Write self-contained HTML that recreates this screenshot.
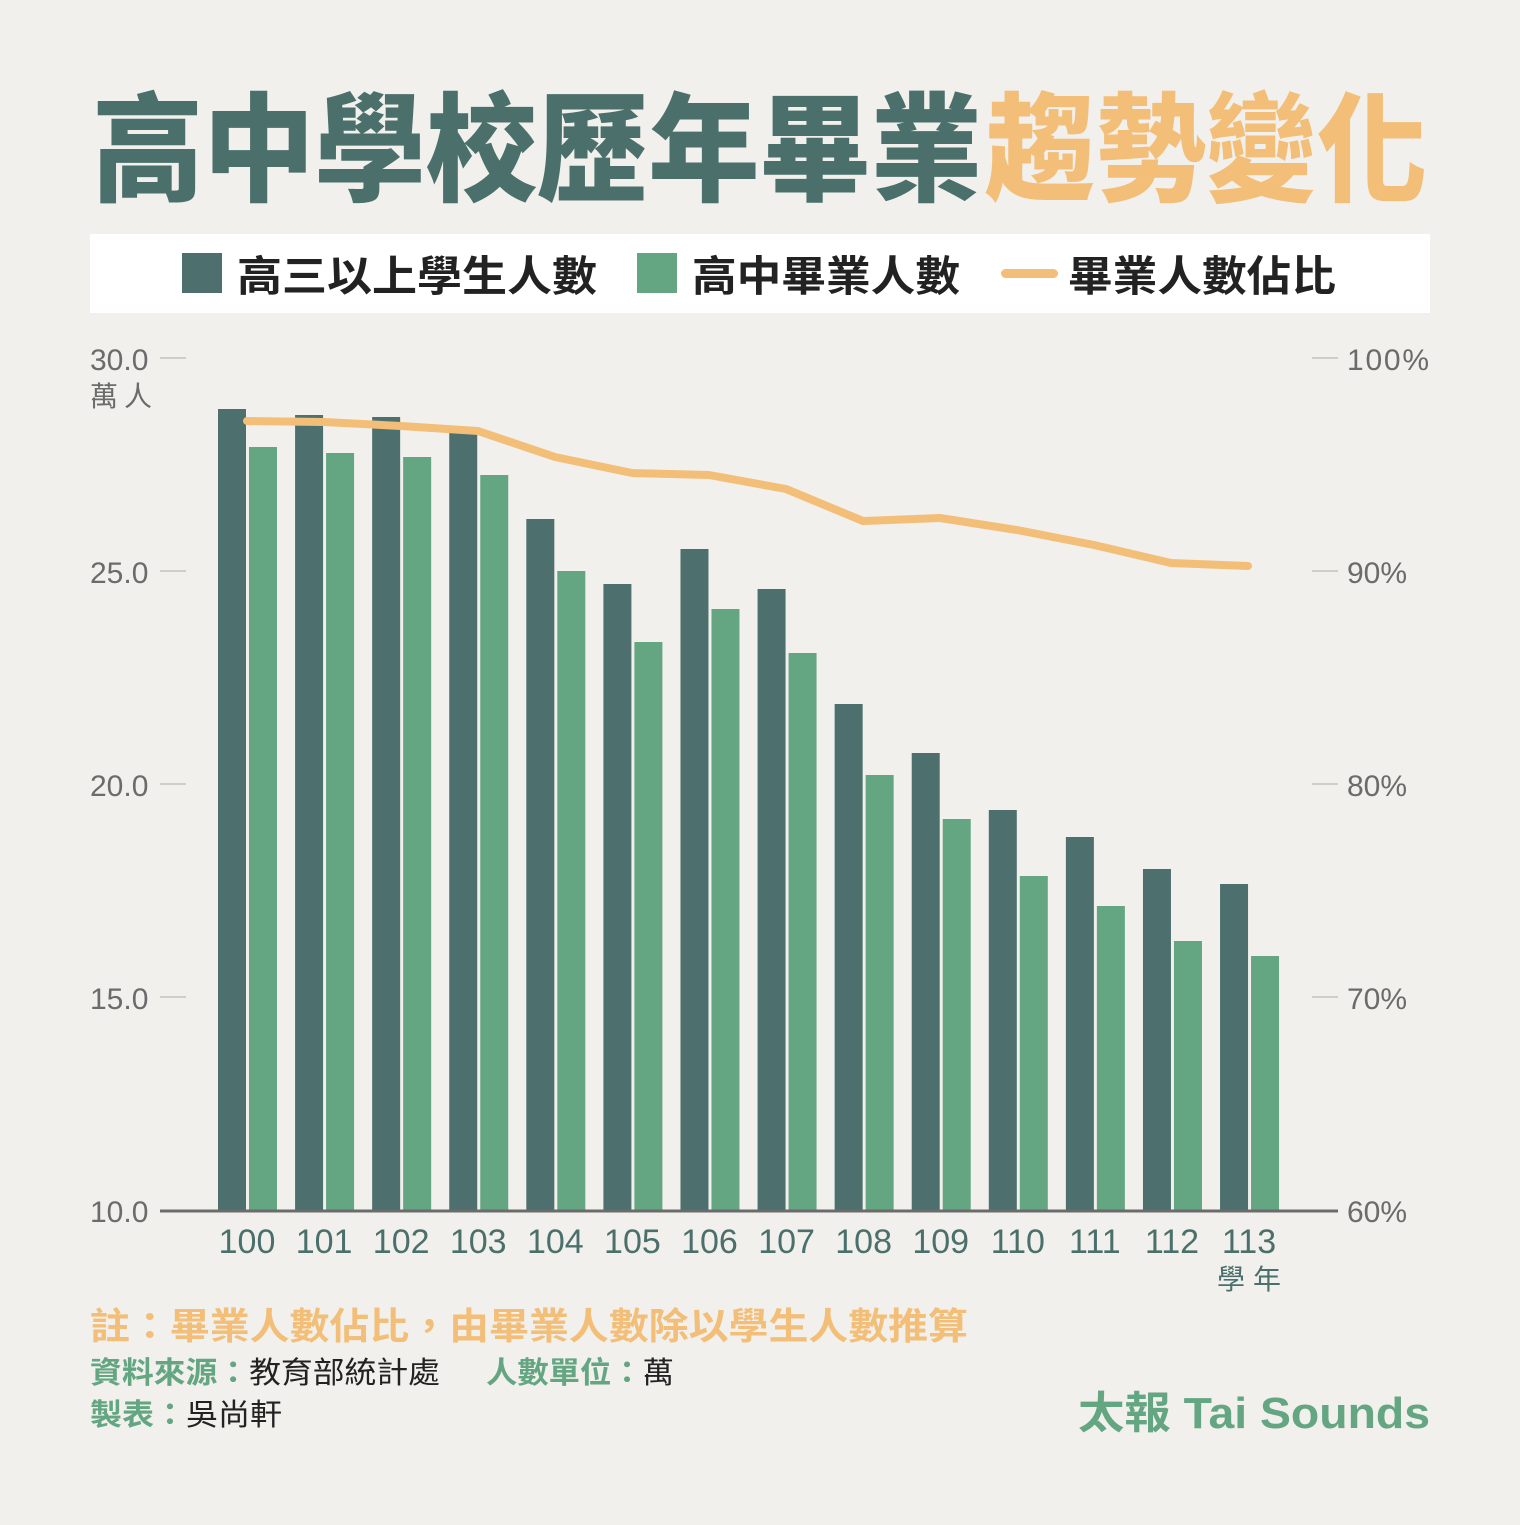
<!DOCTYPE html>
<html><head><meta charset="utf-8"><style>
body{margin:0;background:#f1f0ec;}
svg text{font-family:"Liberation Sans","Noto Sans CJK TC",sans-serif;}
</style></head><body>
<svg width="1520" height="1520" viewBox="0 0 1520 1520" xmlns="http://www.w3.org/2000/svg">
<rect width="1520" height="1520" fill="#f1f0ec"/>
<text x="92" y="192" font-size="118" font-weight="900" fill="#4b706c" textLength="890" lengthAdjust="spacingAndGlyphs">高中學校歷年畢業</text>
<text x="985" y="192" font-size="118" font-weight="900" fill="#f2be78" textLength="442" lengthAdjust="spacingAndGlyphs">趨勢變化</text>
<rect x="90" y="234" width="1340" height="79" fill="#ffffff"/>
<rect x="182" y="253" width="40" height="40" fill="#4d706e"/>
<text x="237" y="291" font-size="42" font-weight="700" fill="#222" textLength="360" lengthAdjust="spacingAndGlyphs">高三以上學生人數</text>
<rect x="637" y="253" width="40" height="40" fill="#64a582"/>
<text x="692" y="291" font-size="42" font-weight="700" fill="#222" textLength="268" lengthAdjust="spacingAndGlyphs">高中畢業人數</text>
<rect x="1001" y="269" width="57" height="9" rx="4.5" fill="#f2be78"/>
<text x="1068" y="291" font-size="42" font-weight="700" fill="#222" textLength="268" lengthAdjust="spacingAndGlyphs">畢業人數佔比</text>
<g font-size="30" fill="#6b6b6b">
<text x="90" y="370">30.0</text><text x="90" y="583">25.0</text><text x="90" y="796">20.0</text><text x="90" y="1009">15.0</text><text x="90" y="1222">10.0</text>
<text x="90" y="406" font-size="28" textLength="62">萬人</text>
<text x="1347" y="370" textLength="82">100%</text><text x="1347" y="583">90%</text><text x="1347" y="796">80%</text><text x="1347" y="1009">70%</text><text x="1347" y="1222">60%</text>
</g>
<g stroke="#aaa" stroke-width="1">
<line x1="160" y1="358" x2="186" y2="358"/><line x1="160" y1="571" x2="186" y2="571"/><line x1="160" y1="784" x2="186" y2="784"/><line x1="160" y1="997" x2="186" y2="997"/>
<line x1="1312" y1="358" x2="1338" y2="358"/><line x1="1312" y1="571" x2="1338" y2="571"/><line x1="1312" y1="784" x2="1338" y2="784"/><line x1="1312" y1="997" x2="1338" y2="997"/>
</g>
<g id="bars"></g>
<line x1="160" y1="1211" x2="1338" y2="1211" stroke="#6b6b6b" stroke-width="3"/>
<polyline fill="none" stroke="#f2be78" stroke-width="8" stroke-linejoin="round" stroke-linecap="round" points="247,421 324,422 401,426 478,431 555,457 632,473 709,475 786,489 863,521 940,518 1017,530 1094,545 1171,563 1248,566"/>
<g id="xl" font-size="34" fill="#4b706c" text-anchor="middle"></g>
<text x="1217" y="1289" font-size="28" fill="#4b706c" textLength="64">學年</text>
<text x="90" y="1339" font-size="37" font-weight="700" fill="#f2be78" textLength="878" lengthAdjust="spacingAndGlyphs">註：畢業人數佔比，由畢業人數除以學生人數推算</text>
<text x="90" y="1383" font-size="30" font-weight="700" fill="#64a582" textLength="350" lengthAdjust="spacingAndGlyphs">資料來源：<tspan fill="#222" font-weight="400">教育部統計處</tspan></text>
<text x="486" y="1383" font-size="30" font-weight="700" fill="#64a582" textLength="188" lengthAdjust="spacingAndGlyphs">人數單位：<tspan fill="#222" font-weight="400">萬</tspan></text>
<text x="90" y="1425" font-size="30" font-weight="700" fill="#64a582" textLength="192" lengthAdjust="spacingAndGlyphs">製表：<tspan fill="#222" font-weight="400">吳尚軒</tspan></text>
<text x="1078" y="1428" font-size="44" font-weight="700" fill="#64a582" textLength="352" lengthAdjust="spacingAndGlyphs">太報 Tai Sounds</text>
</svg>
<script>
var d=[409,415,417,428,519,584,549,589,704,753,810,837,869,884];
var g=[447,453,457,475,571,642,609,653,775,819,876,906,941,956];
var ns="http://www.w3.org/2000/svg",b=document.getElementById("bars"),xl=document.getElementById("xl");
for(var i=0;i<14;i++){var x=218+77.08*i;
var r=document.createElementNS(ns,"rect");r.setAttribute("x",x);r.setAttribute("y",d[i]);r.setAttribute("width",28);r.setAttribute("height",1211-d[i]);r.setAttribute("fill","#4d706e");b.appendChild(r);
r=document.createElementNS(ns,"rect");r.setAttribute("x",x+31);r.setAttribute("y",g[i]);r.setAttribute("width",28);r.setAttribute("height",1211-g[i]);r.setAttribute("fill","#64a582");b.appendChild(r);
var t=document.createElementNS(ns,"text");t.setAttribute("x",x+29);t.setAttribute("y",1253);t.textContent=100+i;xl.appendChild(t);}
</script>
</body></html>
